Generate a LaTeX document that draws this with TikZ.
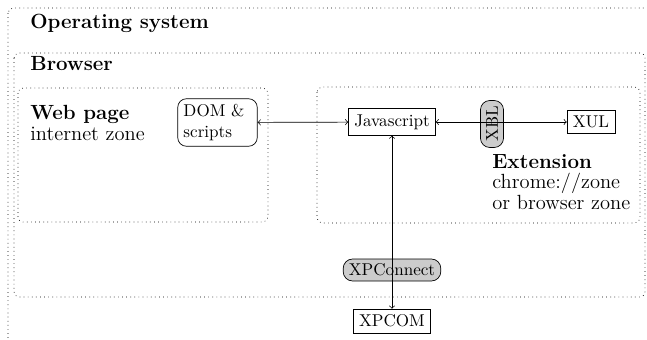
\documentclass[tikz,border=0pt]{standalone}
\usetikzlibrary{positioning}

\tikzset{
  zone/.style={draw, dotted, rounded corners=3pt},
  zonetext/.style={anchor=north west, inner sep=0pt, align=left, font=\fontsize{12}{12}\selectfont},
  comp/.style={draw, fill=white},
  glue/.style={draw, fill=black!20, rounded corners=5.5pt},
}

\begin{document}
\begin{tikzpicture}[x=0.585pt, y=-0.585pt]
    \useasboundingbox (0,0) rectangle (647,340);
    \clip (0,0) rectangle (647,340);

    % Operating system
    \draw[zone] (8,8) rectangle (680,380);
    \node[zonetext, anchor=base west] (os) at (30,28) {\textbf{Operating system}};

    % Browser
    \draw[zone] (14,53) rectangle (645,297);
    \node[zonetext, anchor=base west] (browser) at (30,70) {\textbf{Browser}};

    % Web page zone
    \draw[zone] (18,88) rectangle (268,222);
    \node[zonetext] (webpage) at (30,105) {\textbf{Web page}\\internet zone};
    \node[comp, rounded corners=5pt, text width=1.4cm, align=left] (dom) at (217.5,122.5) {DOM \&\\scripts};

    % Extension zone
    \draw[zone] (317,87) rectangle (640,223);
    \node[zonetext] (extension) at (492,154) {\textbf{Extension}\\chrome://zone\\or browser zone};
    \node[comp] (js) at (392,122) {Javascript};
    \node[glue, rotate=90] (xbl) at (492,124) {XBL};
    \node[comp] (xul) at (591,122) {XUL};

    % XPCOM layer
    \node[glue, inner ysep=2.8pt] (xpconnect) at (392,270) {XPConnect};
    \node[comp] (xpcom) at (392,321) {XPCOM};

    % Links
    \draw[<->] (dom) -- (js);
    \draw[<->] (js) -- (xul);
    \draw[<->] (js) -- (xpcom);
\end{tikzpicture}
\end{document}
